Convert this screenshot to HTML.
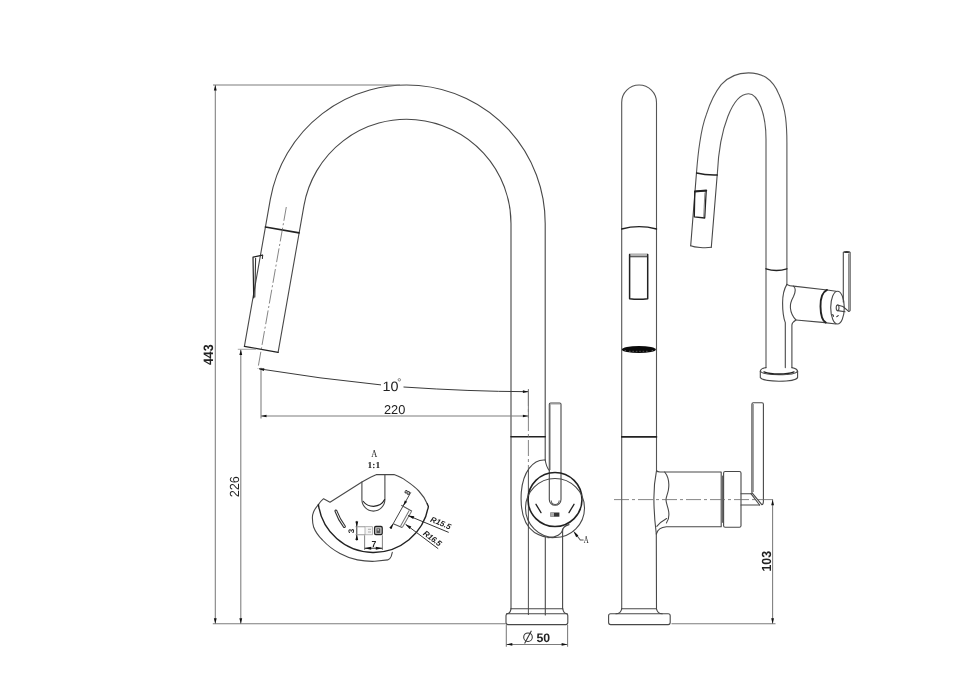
<!DOCTYPE html>
<html>
<head>
<meta charset="utf-8">
<title>Faucet drawing</title>
<style>
html,body{margin:0;padding:0;background:#fff;}
body{width:970px;height:687px;overflow:hidden;font-family:"Liberation Sans",sans-serif;}
svg{display:block;filter:grayscale(1) blur(0.3px);}
.o{fill:none;stroke:#484848;stroke-width:1.1;stroke-linecap:round;stroke-linejoin:round;}
.t{fill:none;stroke:#7c7c7c;stroke-width:1.05;}
.k{fill:none;stroke:#222;stroke-width:1.6;stroke-linecap:round;stroke-linejoin:round;}
.c{fill:none;stroke:#666;stroke-width:0.8;stroke-dasharray:14 2.5 2 2.5;}
.a{fill:#111;stroke:none;}
text{font-family:"Liberation Sans",sans-serif;fill:#222;text-rendering:geometricPrecision;}

.s{font-family:"Liberation Serif",serif;}
</style>
</head>
<body>
<svg width="970" height="687" viewBox="0 0 970 687">
<rect width="970" height="687" fill="#fff"/>

<!-- ===== FRONT VIEW ===== -->
<g id="front">
<!-- spout + arc -->
<path class="o" d="M244.4 346.3 L270.3 199.45 A138.5 138.5 0 0 1 545.2 223.5 L545.2 460"/>
<path class="o" d="M278.1 352.3 L304 205.4 A104.3 104.3 0 0 1 511 223.5 L511 608.8"/>
<path class="k" d="M244.4 346.3 L278.1 352.3" style="stroke-width:1.3"/>
<path class="k" d="M265.4 227 L299.1 232.9"/>
<!-- spray button -->
<path class="k" d="M262.6 255.2 L253 257.2 L253.7 297.8" style="stroke-width:1.2"/>
<path class="o" d="M255.6 258.2 L254.8 297 M262.6 255.2 L262.4 258.5" style="stroke:#333"/>
<!-- spout centre line -->
<path class="c" d="M286.3 207 L257.9 368.5"/>
<!-- seam lower -->
<path class="k" d="M511 436.8 L545.2 436.8"/>
<!-- tube centre line -->
<path class="c" d="M528.4 390 L528.4 470" style="stroke-dasharray:16 3 3 3"/>
<path class="t" d="M528.4 470 L528.4 615" style="stroke:#555"/>
<!-- lower body lines -->
<path class="o" d="M545.3 537 L545.3 615"/>
<path class="o" d="M569 524.6 C565 525.6 562.6 527.5 562.6 531 L562.6 608.8"/>
<path class="o" d="M562.6 529 C562.2 534 556 537.6 548 537.8"/>
<!-- base -->
<path class="o" d="M511 608.8 L562.8 608.8"/>
<path class="o" d="M511 608.8 C510.5 612 509 613.8 506.5 613.8 M562.8 608.8 C563.3 612 564.8 613.8 567.3 613.8"/>
<rect class="o" x="506" y="613.8" width="61.8" height="10.8" rx="2" ry="2"/>
<!-- lever -->
<path class="o" d="M549.3 470 L549.3 404.3 Q549.3 403 550.6 403 L559.7 403 Q561 403 561 404.3 L561 499.4 A5.85 5.85 0 0 1 549.3 499.4 L549.3 470"/>
<path class="t" d="M550.3 404.3 L550.3 470 M550 404 L560.4 404" style="stroke:#8a8a8a;stroke-width:0.8"/>
<path class="t" d="M551.2 500.5 A4 4 0 0 0 559.2 500.5" style="stroke:#555"/>
<!-- handle circle -->
<circle class="k" cx="555" cy="499.5" r="27"/>
<circle class="o" cx="555" cy="508" r="29.5"/>
<!-- blob -->
<path class="o" d="M545.2 460 C533 459 523 472 521.3 492 C520 512 525 526 534.5 532.5 C541 536.5 548 538 555 537.5"/>
<path class="o" d="M545.2 460 C546 465 547.5 468.5 549.3 470.5"/>
<!-- marks -->
<path class="k" d="M536 504.3 L541 512.6 M574 504.3 L569 512.6" style="stroke-width:1.3"/>
<rect x="550.4" y="512.5" width="9" height="4.2" fill="#333"/>
<rect x="550.4" y="512.5" width="3.6" height="4.2" fill="#aaa"/>
<!-- A label -->
<path class="t" d="M575 533 L580.3 540 L583.6 540" style="stroke:#555"/>
<path class="a" d="M573.2 530.8 L578.4 535.6 L576.2 537.2 Z"/>
<text class="s" x="583.8" y="542.6" font-size="10.5" textLength="4.9" lengthAdjust="spacingAndGlyphs" fill="#777">A</text>
</g>

<!-- ===== DIMENSIONS (front) ===== -->
<g id="dims">
<path class="t" d="M213 85 L400 85"/>
<path class="t" d="M215.3 85 L215.3 623.8"/>
<path class="t" d="M240.8 349.5 L240.8 623.8"/>
<path class="t" d="M237.8 349.3 L256 349.3" style="stroke:#aaa"/>
<path class="t" d="M212.8 623.8 L506 623.8"/>
<path class="t" d="M671.5 623.8 L775.5 623.8"/>
<path class="a" d="M215.3 85 L216.7 90.5 L213.9 90.5 Z"/>
<path class="a" d="M215.3 623.8 L216.7 618.3 L213.9 618.3 Z"/>
<path class="a" d="M240.8 349.5 L242.2 355 L239.4 355 Z"/>
<path class="a" d="M240.8 623.8 L242.2 618.3 L239.4 618.3 Z"/>
<!-- 220 -->
<path class="t" d="M261 367.8 L261 418.5"/>
<path class="t" d="M261 416 L528.4 416"/>
<path class="a" d="M261 416 L266.5 414.7 L266.5 417.3 Z"/>
<path class="a" d="M528.4 416 L522.9 414.7 L522.9 417.3 Z"/>
<!-- 10 deg -->
<path class="t" d="M259 368.8 Q320 378.8 381 384.9 M403.5 387 Q470 391.5 528.4 391.7" style="stroke:#3a3a3a;stroke-width:1"/>
<path class="a" d="M258.6 368.7 L264.3 368.2 L263.9 370.9 Z"/>
<path class="a" d="M528.4 391.7 L522.9 390.3 L522.9 393 Z"/>
<path class="t" d="M528.4 389 L528.4 418"/>
<!-- dia 50 -->
<path class="t" d="M506.3 625 L506.3 646.8 M567.6 625 L567.6 646.8"/>
<path class="t" d="M506.3 644.4 L567.6 644.4"/>
<path class="a" d="M506.3 644.4 L512.3 643 L512.3 645.8 Z"/>
<path class="a" d="M567.6 644.4 L561.6 643 L561.6 645.8 Z"/>
<circle class="t" cx="528" cy="637.2" r="4.3" style="stroke:#333"/>
<path class="t" d="M524.6 643.5 L531.4 630.8" style="stroke:#333"/>
<!-- 103 -->
<path class="t" d="M772.6 499.5 L772.6 623.8"/>
<path class="a" d="M772.6 499.8 L774 505.3 L771.2 505.3 Z"/>
<path class="a" d="M772.6 623.8 L774 618.3 L771.2 618.3 Z"/>
</g>

<!-- dimension text -->
<g id="dimtext">
<text x="394.6" y="413.7" font-size="12.8" text-anchor="middle" fill="#222">220</text>
<text x="390.5" y="391" font-size="13.5" text-anchor="middle" fill="#222" textLength="16" lengthAdjust="spacingAndGlyphs">10</text>
<circle cx="399.3" cy="379.8" r="1.25" fill="none" stroke="#444" stroke-width="0.6"/>
<text x="536.5" y="641.6" font-size="12.3" font-weight="bold" fill="#222">50</text>
<text transform="translate(212.8 365) rotate(-90)" font-size="13.6" font-weight="bold" textLength="20.6" lengthAdjust="spacingAndGlyphs" fill="#333">443</text>
<text transform="translate(239 497.3) rotate(-90)" font-size="13.2" textLength="21.2" lengthAdjust="spacingAndGlyphs" fill="#222">226</text>
<text transform="translate(771 571.6) rotate(-90)" font-size="13.2" font-weight="bold" textLength="20.6" lengthAdjust="spacingAndGlyphs" fill="#222">103</text>
</g>

<!-- ===== SIDE VIEW ===== -->
<g id="side">
<path class="o" d="M621.7 608.8 L621.7 102.4 A17.4 17.4 0 0 1 656.5 102.4 L656.5 470.6" style="stroke:#555"/>
<path class="k" d="M621.7 229 Q639.1 224.2 656.5 229" style="stroke-width:1.4"/>
<path d="M629.6 253.4 L647.7 253.4 L647.7 256.4 L629.6 256.4 Z" fill="#b4b4b4"/>
<path class="k" d="M629.6 254.6 L629.6 298.8 Q638.6 299.9 647.7 298.8 L647.7 254.6" style="stroke-width:1.5"/>
<path class="o" d="M630 256.8 L647.3 256.8" style="stroke:#333"/>
<ellipse cx="638.9" cy="349.5" rx="17" ry="3.6" fill="#0a0a0a"/>
<path d="M624.5 350.2 L626.5 350.9 M651.5 350.9 L653.4 350.2 M629 351.3 L648 351.3" stroke="#777" stroke-width="0.7" stroke-dasharray="1.6 1.8" fill="none"/>
<path class="k" d="M621.7 436.9 L656.5 436.9"/>
<!-- base -->
<path class="o" d="M621.7 608.8 L656.5 608.8"/>
<path class="o" d="M621.7 608.8 C621 612 619 613.8 616 613.8 M656.5 608.8 C657.2 612 659.2 613.8 662.2 613.8"/>
<rect class="o" x="608.6" y="613.8" width="61.6" height="10.8" rx="2" ry="2"/>
<!-- body below handle -->
<path class="o" d="M656.3 534 L656.5 608.8"/>
<!-- handle joint -->
<path class="o" d="M656.5 470.6 C654.6 480 653.8 490 653.9 499.7 C654 512 655 524 656.3 534"/>
<path class="o" d="M656.5 470.6 C657.2 471.7 658.5 472 660 472 L721.2 472 L721.2 526.8 L666.4 526.8 C661 527.3 657.4 530 656.3 534"/>
<path class="o" d="M664.7 472 C668.6 477 669.4 484 668.4 490 C667.4 495 666 497 666 499.7 C666 503 667.6 506 668.6 511 C669.4 516 668.6 520 666.4 523"/>
<path class="o" d="M666.6 518.5 C663 520.5 659.5 523 656.8 526.3"/>
<path class="t" d="M722.5 475.6 L722.5 522.8" style="stroke:#666"/>
<rect class="o" x="723.6" y="471.5" width="17.4" height="55.8" rx="1.6"/>
<!-- stem + lever -->
<path class="o" d="M741 493.7 L751.9 493.7 M741 505 L759.6 505"/>
<path class="o" d="M751.9 492.6 L751.9 404.2 Q751.9 402.8 753.3 402.8 L762 402.8 Q763.4 402.8 763.4 404.2 L763.4 501.5 Q763.4 504.6 761.8 504.6 L751.9 492.6"/>
<path class="t" d="M753.1 404 L753.1 492" style="stroke:#666"/>
<path class="o" d="M750.9 493.7 L759.6 505"/>
<!-- centre line -->
<path class="c" d="M614 499.6 L775.3 499.6" style="stroke-dasharray:15 3 3 3"/>
</g>

<!-- ===== 3D VIEW ===== -->
<g id="iso">
<path class="o" d="M696.5 172.5 C697.5 160 698.6 150 699.8 142.5 C701.5 131 703.5 122 706.4 114.4 C710 103 715 92.5 721.2 84.7 C728 77 737.5 72.9 748.5 72.9 C755 72.9 761 74.5 765.8 77.3 C771.5 81 776 87 779 94.6 C782.5 102 784.6 110 785.6 117.7 C786.6 126 786.9 134 786.9 142.5 L786.9 284.4" style="stroke:#555"/>
<path class="o" d="M717.2 175 L717.4 173 A31.5 91.4 0 0 1 748.5 93.8 A17.5 45.2 0 0 1 766 139 L766 367.6" style="stroke:#555"/>
<!-- spray head -->
<path class="o" d="M696.5 172.5 L690.7 245.7 M717.2 175 L711.3 247.3"/>
<path class="k" d="M696.6 173 Q706 175.4 717.2 175" style="stroke-width:1.4"/>
<path class="o" d="M690.7 245.7 C695 247.4 705 248.4 711.3 247.3"/>
<path class="k" d="M694.8 191.4 L694.3 216.8 L704.7 218 L706.2 190.6 Z" style="stroke-width:1.3"/>
<path class="k" d="M695 191.4 L706.2 190.6" style="stroke-width:2"/>
<path class="t" d="M704.9 192.5 L703.7 217" style="stroke:#888"/>
<!-- seam -->
<path class="k" d="M766 268.8 Q776.4 272.2 786.9 268.8" style="stroke-width:1.4"/>
<!-- joint -->
<path class="o" d="M786.9 284.4 C784 289 782.6 296 782.6 303 C782.6 311 783.5 318 785.3 322.6 L785.3 367.6"/>
<path class="o" d="M786.9 284.4 C789 285.6 791 286 793.5 286.1 C795.8 288 795.6 292 793.5 296.5 C791 301 790 304.5 790.4 308 C790.8 312 792.5 316.5 796 320 C793.5 321.5 792 322.5 791.9 325 L791.9 367.6"/>
<path class="o" d="M793.5 286.1 L827.3 290 L836 291.2 M796 320 L822.4 322.4 L836 324"/>
<!-- ring + cap -->
<path class="k" d="M827 289.9 C822.6 292 820.4 299 820.5 306.4 C820.6 314 822.6 320.6 825.8 322.6" style="stroke-width:1.9"/>
<ellipse class="o" cx="837.5" cy="307.6" rx="6.8" ry="16.4"/>
<!-- stem -->
<path class="o" d="M837.6 305 L842.9 306.5 L848.4 311.2 M837.6 310.6 L845 311.8" style="stroke:#444"/>
<ellipse class="o" cx="837.6" cy="307.8" rx="1.4" ry="2.8" style="stroke:#444"/>
<path d="M832.8 314.6 L833.5 316.2 M836.8 316.6 L838.2 315.6" stroke="#222" stroke-width="1.1" stroke-linecap="round" fill="none"/>
<!-- lever -->
<path class="o" d="M843.3 302 L843.3 252.2 M850.1 252.2 L850.1 310.6 Q849.6 311.6 848.4 311.2"/>
<path class="t" d="M848.7 253.5 L848.7 310.8" style="stroke:#777"/>
<ellipse cx="846.7" cy="251.9" rx="3.3" ry="1" fill="#333"/>
<!-- base -->
<path class="o" d="M766 367.6 C763 368 760.6 369.2 760.3 371.2 L760.3 377.6 C762 380 770 381.2 779 381.2 C788 381.2 796 380 797.6 377.6 L797.6 371.2 C797.3 369.3 795 368.2 791.9 367.6"/>
<path class="o" d="M760.3 371.2 C762 373.6 770 374.8 779 374.8 C788 374.8 796 373.6 797.6 371.2"/>
<path class="k" d="M764 371.8 C768 373.4 773 374 779 374 C785 374 790 373.4 794 371.8" style="stroke-width:1.3"/>
</g>

<!-- ===== DETAIL A ===== -->
<g id="detail">
<text class="s" x="371.2" y="457" font-size="10.5" textLength="6" lengthAdjust="spacingAndGlyphs" fill="#777">A</text>
<text class="s" x="367.6" y="468" font-size="9" font-weight="bold" textLength="12.6" lengthAdjust="spacingAndGlyphs" fill="#222">1:1</text>
<!-- outline -->
<path class="o" d="M376.7 474.6 L394 474.6 C399 476.5 402.5 478 405.6 480.4 C411 484 415.5 487.5 418.8 491 C423 495.5 425.5 499.5 427.2 503.8"/>
<path class="o" d="M376.7 474.6 C371 477 366.5 479.5 361.9 482 L330 502.2 L323.6 498.7 C321.5 500.5 319.8 502.4 318.4 504.6"/>
<path class="o" d="M318.4 504.6 C314.5 509 312.2 513.5 312.4 518 C312.4 521.5 312.9 524.5 313.7 527.3 C315.5 532 318.5 536.2 322.5 540 C327.5 545.5 333.5 550 340 553.5 C345.5 556.5 351.2 558.6 357.4 559.9 C363 561 369 561.5 374.9 561.3 L387.7 559.9 C389.6 559.2 390.6 558 391.2 556.4 L392.3 552.3"/>
<path class="k" d="M318.4 504.6 A55.7 55.7 0 0 0 428.4 506.5 L427.2 503.8" style="stroke-width:1.4"/>
<!-- U slot -->
<path class="o" d="M361.9 482 L361.9 499.6 A11.5 11.5 0 0 0 384.9 499.6 L384.9 475"/>
<path class="k" d="M363.3 501.5 Q367 506.3 373.6 506.3 Q381.5 506 384.6 499.6" style="stroke-width:1.2"/>
<!-- curved slot -->
<path class="o" d="M335 511.3 C337 517 340 522.5 343.6 527.2 C344.6 528 345.8 527 345.2 526 C341.8 521.5 338.8 516 336.8 510.6 C336.2 509.6 334.7 510.1 335 511.3 Z" style="stroke:#333"/>
<!-- 3 dim -->
<path class="t" d="M356.8 520.9 L356.8 540.6" style="stroke:#333;stroke-width:1"/>
<path class="t" d="M355.5 526.7 L365 526.7 M355.5 534.8 L365 534.8" style="stroke:#999"/>
<path class="a" d="M356.8 526.9 L358.2 521.6 L355.4 521.6 Z M356.8 534.6 L358.2 539.9 L355.4 539.9 Z"/>
<text transform="translate(354.4 531) rotate(-90)" font-size="8" font-weight="bold" text-anchor="middle" fill="#222">3</text>
<rect x="365" y="526.7" width="7.5" height="8.1" fill="#f4f4f4" stroke="#999" stroke-width="0.7"/>
<path d="M368 529.3 L371 529.3 M368 532 L371 532" stroke="#999" stroke-width="0.8"/>
<rect x="374.6" y="526.5" width="7.6" height="8" rx="1.2" fill="#ddd" stroke="#222" stroke-width="1.3"/>
<path d="M376.4 528.3 L380.4 528.3 L380.4 533 L376.4 533 Z" fill="#555"/>
<path d="M377.4 529.2 L379 529.2 L379 530.6 L377.4 530.6 Z" fill="#ddd"/>
<!-- 7 dim -->
<path class="t" d="M364.6 535.2 L364.6 550 M382.4 535.2 L382.4 550" style="stroke:#888"/>
<path class="t" d="M364.6 548.2 L382.4 548.2" style="stroke:#333"/>
<path class="a" d="M364.6 548.2 L371.2 546.7 L371.2 549.7 Z M382.4 548.2 L375.8 546.7 L375.8 549.7 Z"/>
<text x="373.8" y="546.9" font-size="8.6" font-weight="bold" text-anchor="middle" fill="#222">7</text>
<!-- 8 dim / slot -->
<path class="t" d="M410.8 492.3 L390.5 528.5" style="stroke:#444;stroke-width:1"/>
<path class="t" d="M401.3 505.2 L412 511.2 M393.2 523.7 L402.1 527.5" style="stroke:#555"/>
<path class="t" d="M411.6 511.3 L402.3 527.6 M409.2 510.4 L400.6 526" style="stroke:#777"/>
<path class="a" d="M403.1 505.9 L404.8 500.4 L407.2 501.8 Z M393.3 523.6 L391.7 529.1 L389.3 527.7 Z"/>
<text transform="translate(409.6 493.6) rotate(-61)" font-size="7.6" font-weight="bold" text-anchor="middle" fill="#222">8</text>
<!-- R15.5 / R16.5 -->
<path class="t" d="M408.2 515.6 L448.7 532.4" style="stroke:#333;stroke-width:1"/>
<path class="a" d="M407.9 515.5 L414.3 516.3 L413.2 519 Z"/>
<text transform="translate(429.8 521.4) rotate(22.5)" font-size="8" font-weight="bold" font-style="italic" textLength="21.5" lengthAdjust="spacing" fill="#222">R15.5</text>
<path class="t" d="M405.7 524.4 L438.2 548.7" style="stroke:#333;stroke-width:1"/>
<path class="a" d="M405.4 524.2 L411.3 526.6 L409.6 528.9 Z"/>
<text transform="translate(422.6 534.4) rotate(36.7)" font-size="8" font-weight="bold" font-style="italic" textLength="20.5" lengthAdjust="spacing" fill="#222">R16.5</text>
</g>
</svg>
</body>
</html>
